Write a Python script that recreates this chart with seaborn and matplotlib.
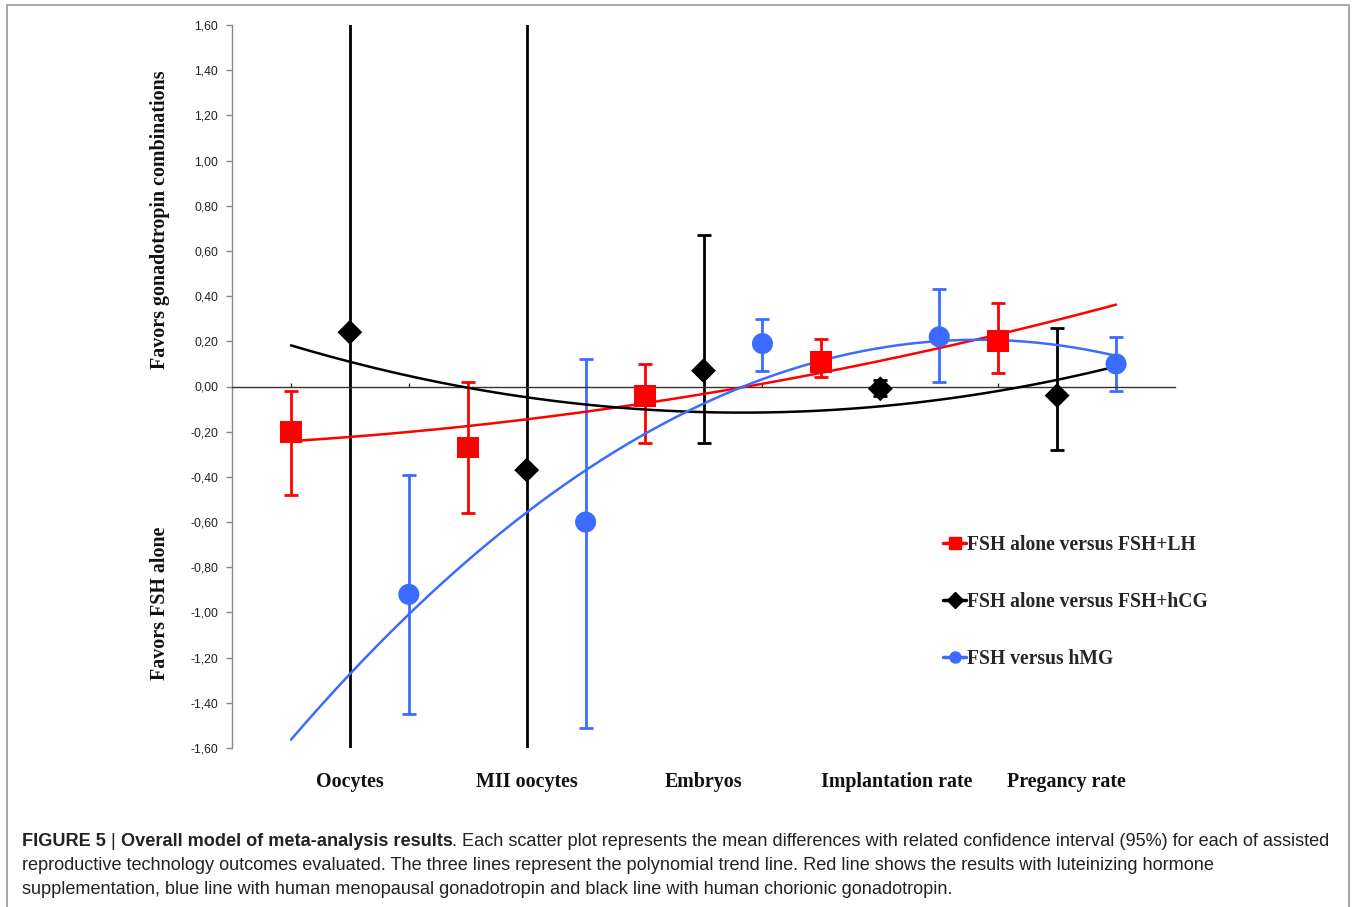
import numpy as np
import pandas as pd
import matplotlib.pyplot as plt
import matplotlib.transforms as mtrans
from matplotlib.lines import Line2D
from matplotlib.patches import Rectangle
import seaborn as sns

# mean differences with 95% CI, x = slot on the category axis
lh_x = [1, 4, 7, 10, 13]
lh_mean = [-0.20, -0.27, -0.04, 0.11, 0.20]
lh_lo = [-0.48, -0.56, -0.25, 0.04, 0.06]
lh_hi = [-0.02, 0.02, 0.10, 0.21, 0.37]

hcg_x = [2, 5, 8, 11, 14]
hcg_mean = [0.24, -0.37, 0.07, -0.01, -0.04]
hcg_lo = [-2.10, -2.40, -0.25, -0.04, -0.28]
hcg_hi = [2.60, 1.90, 0.67, 0.03, 0.26]

hmg_x = [3, 6, 9, 12, 15]
hmg_mean = [-0.92, -0.60, 0.19, 0.22, 0.10]
hmg_lo = [-1.45, -1.51, 0.07, 0.02, -0.02]
hmg_hi = [-0.39, 0.12, 0.30, 0.43, 0.22]

outcomes = ["Oocytes", "MII oocytes", "Embryos", "Implantation rate", "Pregancy rate"]
outcome_pos = [2, 5, 8, 11.27, 14.15]

series = [
    ("FSH alone versus FSH+LH", lh_x, lh_mean, lh_lo, lh_hi, "#ff0000", "s", 250),
    ("FSH alone versus FSH+hCG", hcg_x, hcg_mean, hcg_lo, hcg_hi, "#000000", "D", 160),
    ("FSH versus hMG", hmg_x, hmg_mean, hmg_lo, hmg_hi, "#3b6cff", "o", 230),
]

sns.set_style("white")
plt.rcParams['font.family'] = ['Liberation Sans', 'DejaVu Sans']

fig = plt.figure(figsize=(13.56, 9.07), dpi=100)
ax = fig.add_axes([232/1356, 1-748/907, (1175-232)/1356, (748-25)/907])

handles = []
for name, x, m, lo, hi, col, mk, s in series:
    df = pd.DataFrame({"x": x, "mean": m, "lo": lo, "hi": hi})
    ax.errorbar(df["x"], df["mean"], yerr=[df["mean"]-df["lo"], df["hi"]-df["mean"]],
                fmt='none', ecolor=col, elinewidth=2, capsize=5, capthick=2, zorder=2)
    # polynomial (order 2) trend line, as in the original
    coefs = np.polyfit(df["x"], df["mean"], 2)
    xs = np.linspace(1, 15, 200)
    sns.lineplot(x=xs, y=np.polyval(coefs, xs), color=col, lw=1.8, ax=ax, zorder=3)
    sns.scatterplot(data=df, x="x", y="mean", marker=mk, s=s, color=col,
                    edgecolor='none', ax=ax, zorder=4)
    handles.append(Line2D([], [], color=col, lw=2.5, marker=mk, markersize=8, label=name))

ax.set_xlim(0, 16)
ax.set_ylim(-1.6, 1.6)
ax.set_xlabel("")
ax.set_ylabel("")

yt = np.round(np.arange(-1.6, 1.61, 0.2), 2)
ax.set_yticks(yt)
ax.set_yticklabels([f"{v:.2f}".replace(".", ",").replace("-0,00", "0,00") for v in yt],
                   fontsize=8.7, color="#222")
ax.tick_params(axis='y', direction='out', length=4, width=1, color='#888', pad=6, left=True)

ax.set_xticks(np.arange(1, 16, 2))
ax.set_xticklabels([])
ax.tick_params(axis='x', direction='in', length=3, width=1, color='#333', bottom=True)

for side in ['top', 'right']:
    ax.spines[side].set_visible(False)
ax.spines['left'].set_color('#888')
ax.spines['left'].set_linewidth(1)
ax.spines['bottom'].set_position(('data', 0))
ax.spines['bottom'].set_color('#333')
ax.spines['bottom'].set_linewidth(1)

serif_bold = dict(family='Liberation Serif', weight='bold', size=14.4, color='#111')
lab_tr = mtrans.blended_transform_factory(ax.transData, fig.transFigure)
for lab, p in zip(outcomes, outcome_pos):
    ax.text(p, 1-782/907, lab, transform=lab_tr, ha='center', va='center', **serif_bold)

fig.text(160/1356, 1-220/907, "Favors gonadotropin combinations", rotation=90,
         ha='center', va='center', **serif_bold)
fig.text(160/1356, 1-603/907, "Favors FSH alone", rotation=90,
         ha='center', va='center', **serif_bold)

ax.legend(handles=handles, loc='upper left', bbox_to_anchor=(933/1356, 1-525/907),
          bbox_transform=fig.transFigure, frameon=False, handlelength=1.2,
          handletextpad=0.05, labelspacing=1.9, borderpad=0,
          prop=dict(family='Liberation Serif', weight='bold', size=14.1))

# frame round the figure
fig.patches.append(Rectangle((7/1356, -0.01), (1349-7)/1356, 1.01-5/907,
                             transform=fig.transFigure, fill=False,
                             edgecolor='#999', lw=1.2))

# caption
cap_size = 13.1
cap_col = '#222'
lines = [
    "reproductive technology outcomes evaluated. The three lines represent the polynomial trend line. Red line shows the results with luteinizing hormone",
    "supplementation, blue line with human menopausal gonadotropin and black line with human chorionic gonadotropin.",
]
fig.canvas.draw()
r = fig.canvas.get_renderer()
x0 = 22/1356
y1 = 1-841/907
parts = [("FIGURE 5", 'bold'), (" | ", 'normal'), ("Overall model of meta-analysis results", 'bold'),
         (". Each scatter plot represents the mean differences with related confidence interval (95%) for each of assisted", 'normal')]
xx = x0
for txt, w in parts:
    t = fig.text(xx, y1, txt, ha='left', va='center', fontsize=cap_size, weight=w, color=cap_col)
    bb = t.get_window_extent(renderer=r)
    xx = bb.x1 / fig.bbox.width
for i, ln in enumerate(lines):
    fig.text(x0, 1-(865+24*i)/907, ln, ha='left', va='center', fontsize=cap_size, color=cap_col)

fig.savefig("out.png", dpi=100, facecolor='white')
